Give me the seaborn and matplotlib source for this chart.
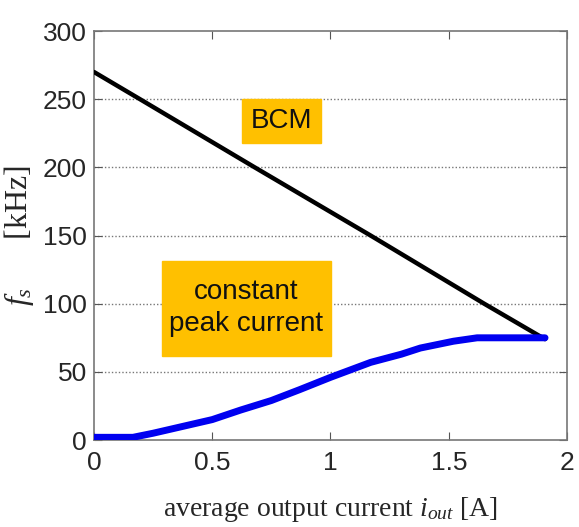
import numpy as np
import pandas as pd
import seaborn as sns
import matplotlib
matplotlib.use("Agg")
import matplotlib.pyplot as plt
from matplotlib.patches import Rectangle

# ---- data ----
bcm_current = [0.0, 0.195, 0.68, 1.17, 1.65, 1.907]
bcm_fs = [270, 250, 200, 150, 100, 74]

cpc_current = [0.0, 0.165, 0.25, 0.35, 0.5, 0.62, 0.75, 0.87, 1.0, 1.17, 1.3, 1.38, 1.52, 1.62, 1.907]
cpc_fs = [2, 2, 5, 9, 15, 22, 29, 37, 46, 57, 63, 67.5, 72.5, 75, 75]

x_ticks = [0, 0.5, 1, 1.5, 2]
x_tick_labels = ["0", "0.5", "1", "1.5", "2"]
y_ticks = [0, 50, 100, 150, 200, 250, 300]
y_tick_labels = ["0", "50", "100", "150", "200", "250", "300"]

sns.set_theme(style="white")

sans = "Liberation Sans"
serif = "Liberation Serif"
plt.rcParams["font.family"] = [sans, "DejaVu Sans"]
plt.rcParams["mathtext.fontset"] = "custom"
plt.rcParams["mathtext.it"] = "Liberation Serif:italic"
plt.rcParams["mathtext.rm"] = "Liberation Serif"

fig = plt.figure(figsize=(5.79, 5.27), dpi=100)
ax = fig.add_axes([0.1623, 0.165, 0.8170, 0.776])

df_bcm = pd.DataFrame({"i": bcm_current, "f": bcm_fs})
df_cpc = pd.DataFrame({"i": cpc_current, "f": cpc_fs})

# grid
for yv in y_ticks[1:-1]:
    ax.axhline(yv, color="#777777", lw=1.0, ls=(0, (1, 1.5)), zorder=0)

sns.lineplot(data=df_bcm, x="i", y="f", ax=ax, color="black", lw=3.2,
             solid_capstyle="round", zorder=3)
sns.lineplot(data=df_cpc, x="i", y="f", ax=ax, color="#0000F0", lw=5,
             solid_capstyle="round", zorder=4)

ax.set_xlim(0, 2)
ax.set_ylim(0, 300)
ax.set_xticks(x_ticks)
ax.set_xticklabels(x_tick_labels)
ax.set_yticks(y_ticks)
ax.set_yticklabels(y_tick_labels)
ax.tick_params(axis="both", labelsize=19, direction="in", length=6, width=0.8,
               color="#555555", top=True, right=True, bottom=True, left=True)
ax.tick_params(axis="x", pad=8)
ax.tick_params(axis="y", pad=5)
for s in ax.spines.values():
    s.set_color("#777777")
    s.set_linewidth(1.2)

ax.set_xlabel(r"average output current $i_{out}$ [A]", family=serif, fontsize=20,
              labelpad=14)
ax.set_ylabel(r"$f_s$      [kHz]", family=serif, fontsize=23, labelpad=5)

# orange annotation boxes
orange = "#FFC000"
ax.add_patch(Rectangle((0.626, 218), 0.334, 32, color=orange, zorder=2))
ax.text(0.793, 234, "BCM", ha="center", va="center", fontsize=20, color="#111111", zorder=5)
ax.add_patch(Rectangle((0.287, 62), 0.715, 69, color=orange, zorder=2))
ax.text(0.6445, 96.5, "constant\npeak current", ha="center", va="center", fontsize=20,
        color="#111111", linespacing=1.3, zorder=5)

fig.savefig("out.png", dpi=100)
